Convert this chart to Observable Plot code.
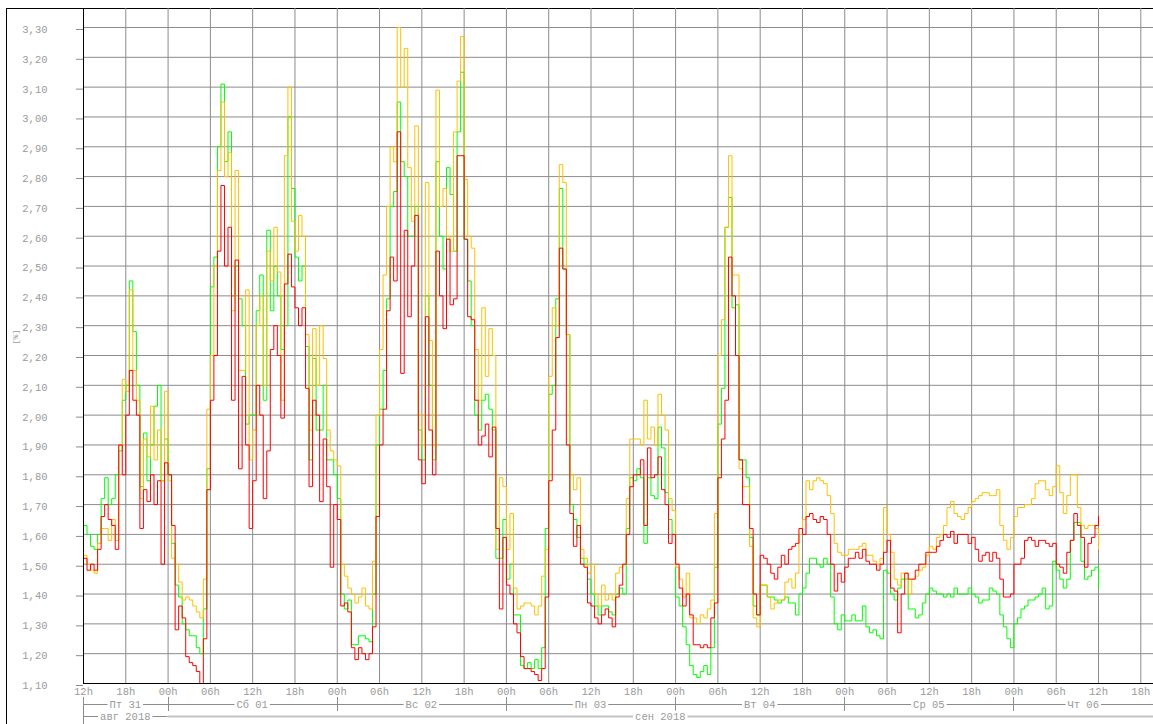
<!DOCTYPE html>
<html><head><meta charset="utf-8">
<script src="https://cdn.jsdelivr.net/npm/d3@7"></script>
<script src="https://cdn.jsdelivr.net/npm/@observablehq/plot@0.6"></script>
<style>
html,body{margin:0;padding:0;background:#fff;}
#wrap{position:relative;width:1153px;height:724px;overflow:hidden;background:#fff;}
#frame{position:absolute;left:6px;top:8px;width:1300px;height:900px;border-left:1px solid #000;border-top:1px solid #000;pointer-events:none;}
#wrap svg{position:absolute;left:0;top:0;}
</style></head><body><div id="wrap"><div id="frame"></div></div>
<script>
// ---- data (30-minute steps starting Fri 31 Aug 2018 12:00) ----
const startTime = "2018-08-31T12:00:00Z";
const stepMinutes = 30;

const red = [
1.52,1.48,1.50,1.48,1.55,1.66,1.70,1.65,1.63,1.55,1.90,1.80,
2.00,2.15,2.05,2.00,1.62,1.75,1.71,1.80,1.70,1.78,1.50,1.84,
1.80,1.63,1.28,1.36,1.32,1.19,1.17,1.16,1.14,1.10,1.25,1.75,
2.05,2.20,2.55,2.77,2.50,2.63,2.05,2.52,1.82,2.13,1.90,1.62,
1.78,2.10,2.00,1.72,1.88,2.22,2.30,2.20,1.99,2.44,2.54,2.43,
2.36,2.30,2.36,2.09,1.76,2.05,2.00,1.71,1.92,1.76,1.49,1.70,
1.65,1.36,1.37,1.34,1.22,1.18,1.22,1.20,1.18,1.20,1.29,1.66,
1.90,2.02,2.35,2.53,2.45,2.95,2.14,2.62,2.33,2.50,2.67,1.85,
1.77,2.33,1.95,1.80,2.55,2.40,2.29,2.59,2.37,2.39,2.87,2.87,
2.59,2.33,2.32,2.05,1.90,1.93,1.97,1.86,1.96,1.62,1.35,1.59,
1.43,1.40,1.30,1.27,1.19,1.15,1.15,1.14,1.13,1.11,1.15,1.39,
1.78,1.95,2.26,2.56,2.49,1.90,1.67,1.56,1.63,1.50,1.49,1.37,
1.36,1.32,1.30,1.33,1.35,1.32,1.29,1.39,1.43,1.50,1.60,1.76,
1.80,1.80,1.85,1.63,1.89,1.79,1.80,1.86,1.75,1.70,1.57,1.60,
1.50,1.42,1.36,1.40,1.33,1.23,1.23,1.22,1.23,1.22,1.32,1.37,
1.79,1.92,2.05,2.53,2.40,2.20,1.85,1.70,1.70,1.62,1.40,1.33,
1.53,1.52,1.50,1.47,1.45,1.49,1.53,1.50,1.55,1.56,1.57,1.62,
1.60,1.66,1.67,1.65,1.64,1.66,1.65,1.60,1.50,1.41,1.47,1.44,
1.49,1.52,1.52,1.54,1.52,1.55,1.51,1.50,1.50,1.48,1.50,1.54,
1.58,1.42,1.41,1.27,1.40,1.47,1.45,1.45,1.48,1.50,1.50,1.54,
1.54,1.54,1.56,1.58,1.60,1.59,1.61,1.57,1.60,1.60,1.60,1.57,
1.59,1.55,1.51,1.53,1.54,1.51,1.54,1.52,1.45,1.39,1.39,1.40,
1.50,1.50,1.52,1.58,1.59,1.58,1.56,1.58,1.58,1.57,1.56,1.57,
1.50,1.49,1.47,1.54,1.58,1.67,1.63,1.59,1.49,1.57,1.59,1.63,
1.66];

const green = [
1.63,1.60,1.56,1.55,1.60,1.72,1.79,1.70,1.72,1.80,1.88,2.05,
2.10,2.45,2.28,2.10,1.76,1.94,1.78,1.90,2.03,2.10,1.78,1.92,
1.80,1.57,1.43,1.39,1.30,1.28,1.26,1.26,1.22,1.20,1.35,1.82,
2.43,2.53,2.90,3.11,2.85,2.95,2.40,2.50,2.39,2.30,1.97,2.00,
2.00,2.35,2.47,2.05,2.62,2.35,2.50,2.40,2.22,2.30,3.00,2.76,
2.53,2.45,2.50,2.23,1.85,2.19,1.95,1.95,2.10,1.85,1.85,1.80,
1.72,1.40,1.35,1.38,1.23,1.23,1.26,1.26,1.25,1.24,1.40,1.90,
2.02,2.15,2.39,2.70,2.75,3.05,2.85,2.80,2.60,2.60,2.70,1.95,
1.85,2.40,2.10,1.85,2.85,2.60,2.49,2.83,2.74,2.55,2.95,3.15,
2.59,2.45,2.30,2.00,1.95,2.05,2.07,2.02,1.95,1.52,1.52,1.65,
1.45,1.50,1.33,1.33,1.16,1.15,1.17,1.15,1.18,1.15,1.22,1.62,
2.07,2.10,2.39,2.76,2.49,2.27,1.70,1.65,1.59,1.52,1.50,1.45,
1.40,1.36,1.33,1.36,1.36,1.34,1.33,1.40,1.42,1.40,1.62,1.79,
1.78,1.82,1.79,1.57,1.79,1.73,1.72,1.96,1.89,1.74,1.65,1.60,
1.39,1.36,1.29,1.23,1.16,1.13,1.12,1.14,1.16,1.13,1.22,1.49,
1.97,2.09,2.63,2.73,2.36,2.37,1.85,1.85,1.79,1.59,1.36,1.33,
1.43,1.43,1.39,1.39,1.38,1.37,1.38,1.39,1.37,1.37,1.33,1.40,
1.42,1.47,1.52,1.52,1.50,1.49,1.52,1.50,1.39,1.30,1.28,1.33,
1.31,1.31,1.33,1.31,1.31,1.36,1.29,1.27,1.28,1.26,1.25,1.48,
1.47,1.40,1.38,1.42,1.45,1.45,1.35,1.35,1.32,1.33,1.37,1.40,
1.42,1.41,1.40,1.40,1.39,1.40,1.39,1.42,1.40,1.40,1.40,1.42,
1.40,1.39,1.37,1.38,1.38,1.42,1.41,1.40,1.33,1.29,1.25,1.22,
1.30,1.32,1.35,1.36,1.38,1.38,1.39,1.40,1.42,1.35,1.36,1.51,
1.48,1.45,1.42,1.45,1.58,1.64,1.64,1.51,1.45,1.46,1.48,1.49,
1.42];

const yellow = [
1.53,1.50,1.48,1.47,1.57,1.62,1.62,1.58,1.65,1.58,1.90,2.12,
2.08,2.42,2.15,2.05,1.72,1.92,1.86,2.03,1.85,1.95,1.78,2.08,
1.78,1.52,1.50,1.44,1.38,1.39,1.38,1.36,1.34,1.32,1.45,2.02,
2.20,2.50,2.82,3.05,2.80,2.88,2.35,2.82,2.15,2.15,2.42,1.85,
1.95,2.30,2.40,2.10,2.55,2.45,2.63,2.48,2.05,2.87,3.10,2.65,
2.55,2.67,2.60,2.27,1.95,2.29,2.10,2.30,2.19,1.95,1.88,1.85,
1.83,1.50,1.46,1.42,1.40,1.37,1.39,1.42,1.36,1.35,1.51,2.00,
2.22,2.47,2.70,2.90,2.85,3.30,3.10,3.23,2.83,2.65,2.97,2.00,
1.90,2.78,2.25,1.90,3.09,2.70,2.76,2.60,2.55,2.95,3.12,3.27,
2.79,2.60,2.56,2.22,2.05,2.36,2.13,2.29,2.20,1.55,1.79,1.76,
1.55,1.67,1.42,1.35,1.36,1.37,1.37,1.36,1.33,1.36,1.46,1.55,
2.13,2.36,2.30,2.84,2.78,2.27,1.80,1.75,1.79,1.55,1.52,1.47,
1.50,1.40,1.36,1.43,1.38,1.40,1.38,1.47,1.49,1.50,1.72,1.92,
1.92,1.92,1.90,2.05,1.92,1.96,1.90,2.07,2.00,1.95,1.72,1.68,
1.49,1.45,1.39,1.47,1.32,1.32,1.30,1.33,1.32,1.35,1.38,1.67,
2.20,2.32,2.63,2.87,2.47,2.47,1.82,1.76,1.76,1.56,1.32,1.29,
1.43,1.43,1.39,1.35,1.37,1.38,1.38,1.44,1.45,1.42,1.47,1.60,
1.65,1.78,1.75,1.78,1.79,1.78,1.77,1.73,1.67,1.57,1.54,1.53,
1.53,1.55,1.55,1.55,1.56,1.57,1.53,1.53,1.51,1.50,1.52,1.69,
1.60,1.54,1.45,1.43,1.47,1.47,1.40,1.45,1.46,1.48,1.49,1.53,
1.56,1.55,1.59,1.60,1.63,1.69,1.71,1.67,1.66,1.65,1.67,1.69,
1.71,1.72,1.73,1.74,1.74,1.73,1.73,1.75,1.63,1.58,1.55,1.59,
1.66,1.69,1.69,1.70,1.70,1.72,1.77,1.78,1.78,1.75,1.73,1.76,
1.83,1.74,1.67,1.73,1.80,1.80,1.69,1.63,1.62,1.63,1.63,1.62,
1.55];

const yTickValues = [1.10,1.20,1.30,1.40,1.50,1.60,1.70,1.80,1.90,2.00,2.10,2.20,
  2.30,2.40,2.50,2.60,2.70,2.80,2.90,3.00,3.10,3.20,3.30];
const yLabel = "[%]";
const dayLabels = ["Пт 31","Сб 01","Вс 02","Пн 03","Вт 04","Ср 05","Чт 06"];
const dayStarts = ["2018-08-31T00:00:00Z","2018-09-01T00:00:00Z","2018-09-02T00:00:00Z",
  "2018-09-03T00:00:00Z","2018-09-04T00:00:00Z","2018-09-05T00:00:00Z","2018-09-06T00:00:00Z"];
const monthLabels = ["авг 2018","сен 2018"];
const monthStarts = ["2018-08-01T00:00:00Z","2018-09-01T00:00:00Z"];

// ---- build ----
const t0 = new Date(startTime);
const visibleHours = 151.8;
const tEnd = new Date(+t0 + visibleHours * 3600e3);
const toRows = (arr, name) => arr.map((v, i) => ({series: name, time: new Date(+t0 + i * stepMinutes * 60000), value: v}));
const gRows = toRows(green, "green"), yRows = toRows(yellow, "yellow"), rRows = toRows(red, "red");
const xTicks = d3.utcHour.every(6).range(t0, tEnd);

const FONT = "'Liberation Mono','Courier New',monospace";
const W = 1153, H = 724;

const chart = Plot.plot({
  width: W, height: H,
  marginLeft: 83, marginRight: 0, marginTop: 8, marginBottom: 41,
  style: {fontFamily: FONT, fontSize: "10.5px", background: "transparent", color: "#999"},
  x: {type: "utc", domain: [t0, tEnd]},
  y: {domain: [1.1, 3.3637]},
  marks: [
    Plot.gridX(xTicks, {stroke: "#8c8c8c", strokeOpacity: 1}),
    Plot.gridY(yTickValues, {stroke: "#8c8c8c", strokeOpacity: 1}),
    Plot.axisY({ticks: yTickValues, tickSize: 7, tickPadding: 29, stroke: "#8c8c8c", fill: "#9a9a9a",
      tickFormat: d => d.toFixed(2).replace(".", ","), label: null, dy: 2}),
    Plot.axisX({ticks: xTicks, tickSize: 0, tickPadding: 4, fill: "#9a9a9a",
      tickFormat: d3.utcFormat("%Hh"), label: null}),
    Plot.line(gRows, {x: "time", y: "value", stroke: "#00ff00", strokeWidth: 1, curve: "step-after"}),
    Plot.line(yRows, {x: "time", y: "value", stroke: "#ffc000", strokeWidth: 1, curve: "step-after"}),
    Plot.line(rRows, {x: "time", y: "value", stroke: "#ff0000", strokeWidth: 1, curve: "step-after"}),
    Plot.ruleX([t0], {stroke: "#000"}),
    Plot.ruleY([1.1], {stroke: "#000"})
  ]
});
document.getElementById("wrap").appendChild(chart);

// ---- date rows below the axis, built from the x scale ----
const xs = chart.scale("x");
const X = d => xs.apply(d);
const svg = d3.select(chart);
const g = svg.append("g").attr("font-family", FONT).attr("font-size", "10.5px");
const left = X(t0), right = W;
const dayY = 704.5, monY = 716.5;

g.append("line").attr("x1", left).attr("x2", right).attr("y1", dayY).attr("y2", dayY).attr("stroke", "#8c8c8c");
const mSplit = X(new Date(monthStarts[1]));
g.append("line").attr("x1", left).attr("x2", mSplit).attr("y1", monY).attr("y2", monY).attr("stroke", "#8c8c8c");
g.append("line").attr("x1", mSplit).attr("x2", right).attr("y1", monY).attr("y2", monY).attr("stroke", "#c4c4c4").attr("stroke-width", 2);
g.append("line").attr("x1", left + 0.5).attr("x2", left + 0.5).attr("y1", 697).attr("y2", H).attr("stroke", "#8c8c8c");

function spanLabel(text, a, b, y) {
  const x0 = Math.max(X(a), left), x1 = Math.min(X(b), right);
  const cx = (x0 + x1) / 2;
  const t = g.append("text").attr("x", cx).attr("y", y).attr("text-anchor", "middle")
    .attr("dominant-baseline", "central").attr("fill", "#9a9a9a").text(text);
  const bb = t.node().getBBox();
  g.insert("rect", () => t.node()).attr("x", bb.x - 2).attr("y", bb.y).attr("width", bb.width + 4)
    .attr("height", bb.height).attr("fill", "#fff");
}
dayStarts.forEach((d, i) => {
  const a = new Date(d);
  const b = new Date(+a + 24 * 3600e3);
  if (i > 0) {
    const px = Math.round(X(a)) + 0.5;
    g.append("line").attr("x1", px).attr("x2", px).attr("y1", 697).attr("y2", 711).attr("stroke", "#8c8c8c");
  }
  spanLabel(dayLabels[i], a, b, dayY);
});
monthStarts.forEach((m, i) => {
  const a = new Date(m);
  const b = i + 1 < monthStarts.length ? new Date(monthStarts[i + 1]) : tEnd;
  spanLabel(monthLabels[i], a, b, monY);
});

svg.append("text").attr("transform", "translate(15,337) rotate(-90)").attr("text-anchor", "middle")
  .attr("dominant-baseline", "central").attr("font-family", FONT).attr("font-size", "8px")
  .attr("fill", "#9a9a9a").text(yLabel);
</script></body></html>
